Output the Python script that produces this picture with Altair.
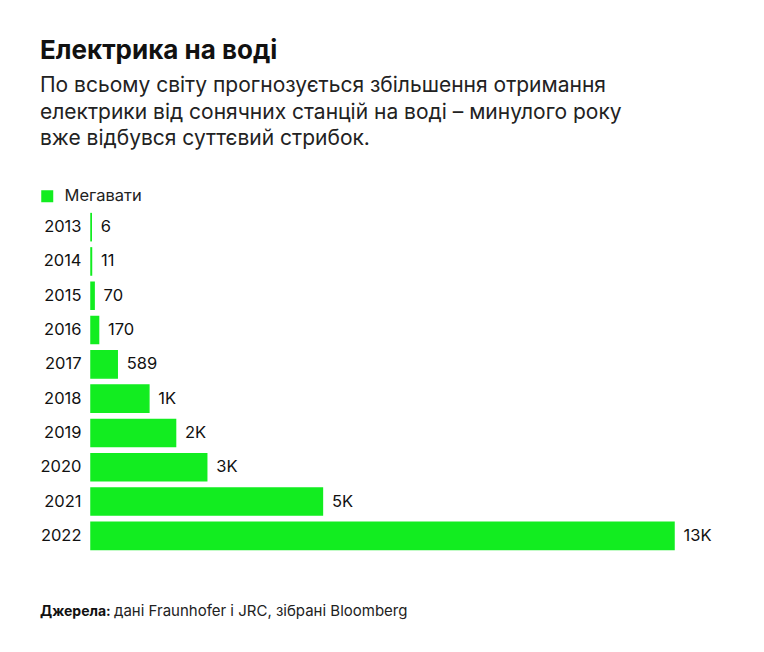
import altair as alt
import pandas as pd

years = ["2013", "2014", "2015", "2016", "2017", "2018", "2019", "2020", "2021", "2022"]
megawatts = [6, 11, 70, 170, 589, 1300, 1900, 2600, 5200, 13100]
series_name = "Мегавати"

title_text = "Електрика на воді"
subtitle_lines = [
    "По всьому світу прогнозується збільшення отримання",
    "електрики від сонячних станцій на воді – минулого року",
    "вже відбувся суттєвий стрибок.",
]
source_bold = "Джерела:"
source_text = "дані Fraunhofer і JRC, зібрані Bloomberg"

GREEN = "#12ED20"
TXT_FONT = "Inter"
NUM_FONT = "Inter"

df = pd.DataFrame({"year": years, "mw": megawatts, "series": [series_name] * len(years)})
base = alt.Chart(df)

y = alt.Y(
    "year:N", sort=years, title=None,
    scale=alt.Scale(paddingInner=0.21, paddingOuter=0.105),
    axis=alt.Axis(ticks=False, domain=False, labelPadding=10, labelFontSize=16.5,
                  labelColor="#111", labelFont=NUM_FONT, grid=False),
)
x = alt.X("mw:Q", title=None, scale=alt.Scale(domain=[0, 13100], nice=False), axis=None)

bars = base.mark_bar(stroke=GREEN, strokeWidth=1.5).encode(
    x=x, y=y,
    color=alt.Color(
        "series:N",
        scale=alt.Scale(domain=[series_name], range=[GREEN]),
        legend=alt.Legend(title=None, orient="none", legendX=-52, legendY=-22,
                          symbolType="square", symbolSize=144, labelFontSize=16.5,
                          labelFont=TXT_FONT, labelColor="#222", labelOffset=9,
                          padding=0, symbolStrokeWidth=0),
    ),
)

labels = base.transform_calculate(
    lab="datum.mw < 1000 ? format(datum.mw, 'd') : format(datum.mw / 1000, '.0f') + 'K'"
).mark_text(align="left", baseline="middle", dx=9.5, fontSize=16.5, font=NUM_FONT, color="#111").encode(
    x=x, y=y, text="lab:N"
)

one = pd.DataFrame({"t": [title_text]})
title = alt.Chart(one).mark_text(
    align="left", baseline="alphabetic", fontSize=26, fontWeight="bold", font=TXT_FONT, color="#111"
).encode(x=alt.value(-51), y=alt.value(-151), text="t:N")

sub_df = pd.DataFrame({"t": subtitle_lines, "i": list(range(len(subtitle_lines)))})
subtitle = alt.Chart(sub_df).transform_calculate(
    yy="-118 + datum.i * 26.5"
).mark_text(
    align="left", baseline="alphabetic", fontSize=21, font=TXT_FONT, color="#222"
).encode(x=alt.value(-51), y=alt.Y("yy:Q", scale=None), text="t:N")

src1 = alt.Chart(pd.DataFrame({"t": [source_bold]})).mark_text(
    align="left", baseline="alphabetic", fontSize=14, fontWeight="bold", font=TXT_FONT, color="#111"
).encode(x=alt.value(-51), y=alt.value(406), text="t:N")

src2 = alt.Chart(pd.DataFrame({"t": [source_text]})).mark_text(
    align="left", baseline="alphabetic", fontSize=15, font=TXT_FONT, color="#222"
).encode(x=alt.value(23), y=alt.value(406), text="t:N")

chart = alt.layer(bars, labels, title, subtitle, src1, src2).properties(
    width=583, height=343,
    padding={"left": 83, "top": 202, "right": 82, "bottom": 90},
    autosize="none",
).configure_view(stroke=None)

chart.save("out.html", embed_options={"renderer": "svg", "actions": False})
